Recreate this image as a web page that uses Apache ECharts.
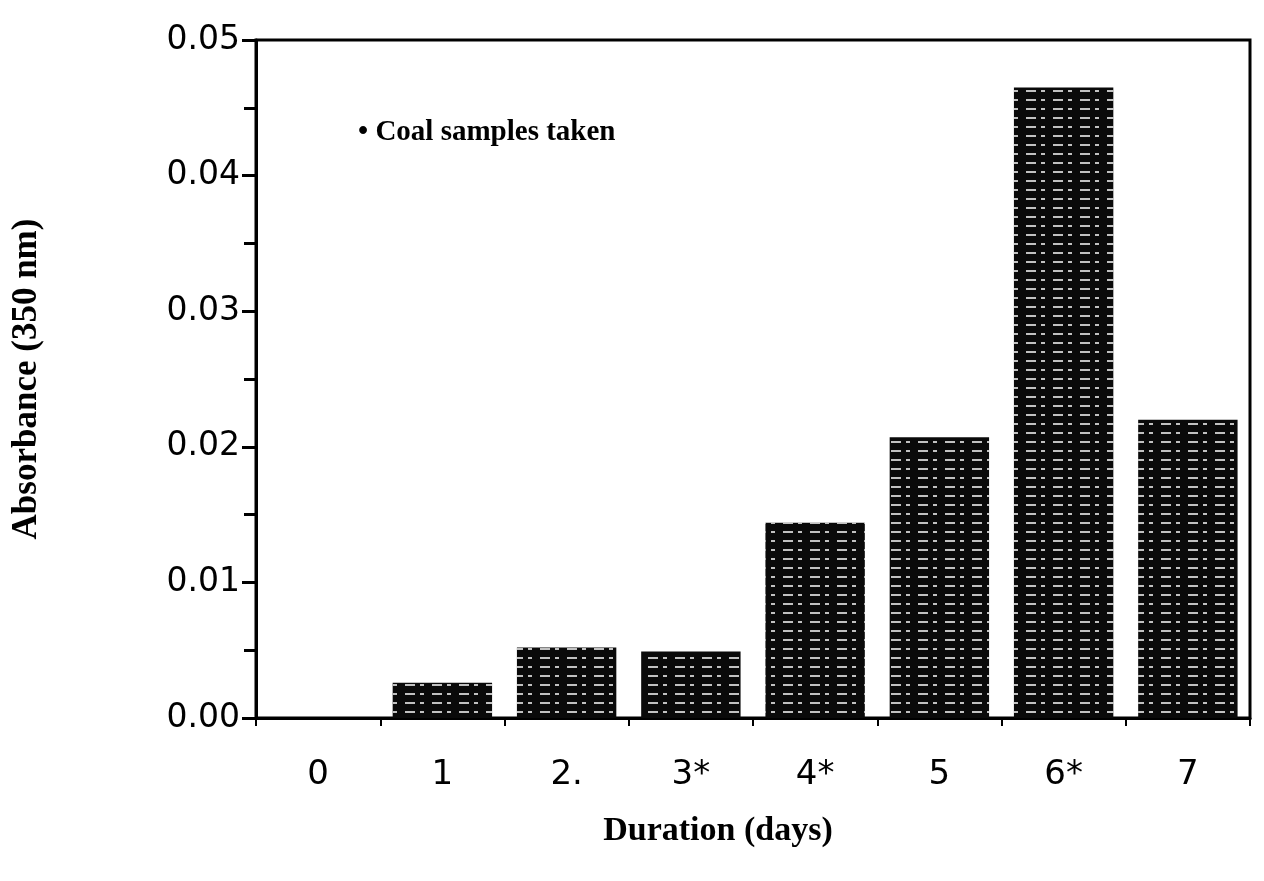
<!DOCTYPE html>
<html><head><meta charset="utf-8">
<script src="https://cdn.jsdelivr.net/npm/echarts@6/dist/echarts.min.js"></script>
<style>html,body{margin:0;padding:0;background:#fff}#c{width:1264px;height:881px}</style>
</head><body><div id="c"></div>
<script>
const categories = ['0','1','2.','3*','4*','5','6*','7'];
const absorbance = [0, 0.0026, 0.0052, 0.0049, 0.0144, 0.0207, 0.0465, 0.0220];
const yTicks = ['0.00','0.01','0.02','0.03','0.04','0.05'];

const chart = echarts.init(document.getElementById('c'));
chart.setOption({
  backgroundColor: '#fff',
  animation: false,
  grid: { left: 256, right: 14, top: 40, bottom: 163, show: true, borderColor: '#000', borderWidth: 3 },
  graphic: [{
    type: 'text', left: 358, top: 118,
    style: { text: '• Coal samples taken', font: 'bold 29px "Liberation Serif"', fill: '#000' }
  }],
  xAxis: {
    type: 'category', data: categories,
    name: 'Duration (days)', nameLocation: 'middle', nameGap: 96,
    nameTextStyle: { fontFamily: 'Liberation Serif', fontWeight: 'bold', fontSize: 34, color: '#000', padding: [0, 70, 0, 0] },
    axisLine: { lineStyle: { color: '#000', width: 3 } },
    axisTick: { show: true, length: 8, lineStyle: { color: '#000', width: 2 } },
    axisLabel: { fontFamily: 'DejaVu Sans', fontSize: 34, color: '#000', margin: 40 }
  },
  yAxis: {
    type: 'value', min: 0, max: 0.05, interval: 0.01,
    name: 'Absorbance (350 nm)', nameLocation: 'middle', nameGap: 212,
    nameTextStyle: { fontFamily: 'Liberation Serif', fontWeight: 'bold', fontSize: 35, color: '#000' },
    axisLine: { show: true, lineStyle: { color: '#000', width: 3 } },
    axisTick: { show: true, length: 14, lineStyle: { color: '#000', width: 3 } },
    minorTick: { show: true, splitNumber: 2, length: 12, lineStyle: { color: '#000', width: 3 } },
    splitLine: { show: false },
    axisLabel: { fontFamily: 'DejaVu Sans', fontSize: 33, color: '#000', margin: 16,
      formatter: v => yTicks[Math.round(v * 100)] }
  },
  series: [{
    type: 'bar', data: absorbance, barWidth: '80%',
    itemStyle: {
      color: '#0a0a0a',
      decal: { symbol: 'rect', color: 'rgba(255,255,255,0.75)', dashArrayX: [[10, 5, 4, 8]], dashArrayY: [2, 7], symbolSize: 1, rotation: 0 }
    }
  }]
});
</script></body></html>
